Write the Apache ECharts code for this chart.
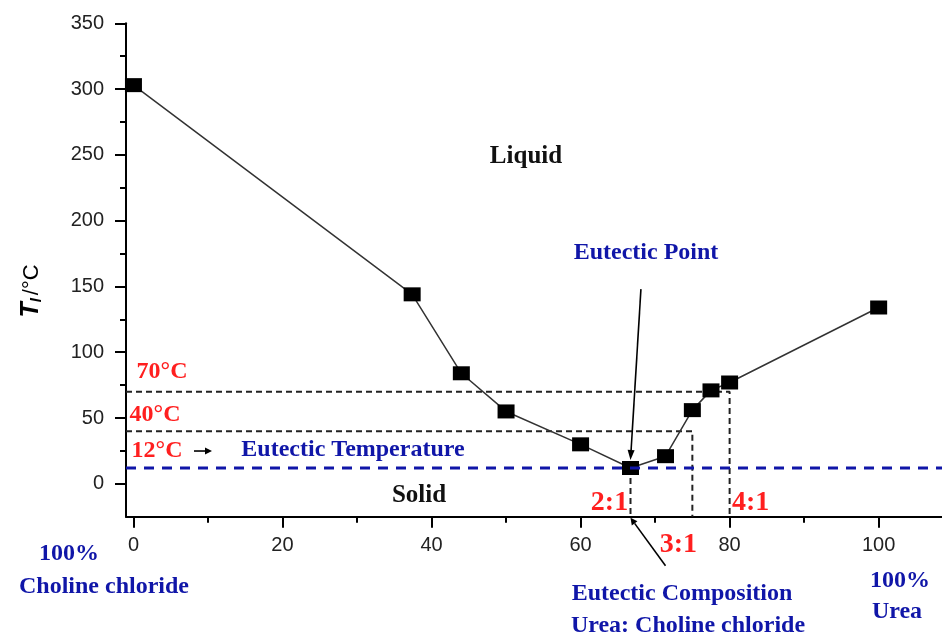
<!DOCTYPE html>
<html>
<head>
<meta charset="utf-8">
<script src="https://cdn.jsdelivr.net/npm/echarts@6/dist/echarts.min.js"></script>
<style>
  html, body { margin: 0; padding: 0; background: #fff; }
  #chart { width: 942px; height: 637px; }
</style>
</head>
<body>
<div id="chart"></div>
<script>
// Urea content (%) of the urea / choline chloride mixture
const ureaPercent = [0, 37.4, 44, 50, 60, 66.7, 71.4, 75, 77.5, 80, 100];
// Freezing temperature T_l (°C) at each composition
const freezingTemp = [303, 144, 84, 55, 30, 12, 21, 56, 71, 77, 134];

// Axis ticks
const xMajorTicks = [0, 20, 40, 60, 80, 100];
const xMinorTicks = [10, 30, 50, 70, 90];
const yMajorTicks = [0, 50, 100, 150, 200, 250, 300, 350];
const yMinorTicks = [25, 75, 125, 175, 225, 275, 325];

// Eutectic point and guide lines
const eutecticUrea = 66.7;
const eutecticTemp = 12;
const isothermTemps = [70, 40];
const isothermUrea = [80, 75];
const isothermLabels = ['70°C', '40°C'];
const ratioUrea = [66.7, 75, 80];
const ratioLabels = ['2:1', '3:1', '4:1'];
// Tail of the "Eutectic Point" arrow (data units)
const eutecticArrowTail = [68.1, 148];

const X_MIN = -1, X_MAX = 108.5, Y_MIN = -25, Y_MAX = 350;

const SERIF = "'Liberation Serif', 'Times New Roman', serif";
const SANS = "'Liberation Sans', Arial, sans-serif";
const RED = '#ff1f1f';
const BLUE = '#1016a8';

const chart = echarts.init(document.getElementById('chart'), null, { renderer: 'canvas' });

function majorAxis(min, max, ticks, pos, margin, extra) {
  return Object.assign({
    type: 'value', min: min, max: max, position: pos,
    axisLine: { show: true, onZero: false, lineStyle: { color: '#000', width: 2 } },
    axisTick: { show: true, customValues: ticks, length: 11, lineStyle: { color: '#000', width: 2 } },
    axisLabel: { show: true, customValues: ticks, margin: margin, fontSize: 20, color: '#222', fontFamily: SANS },
    splitLine: { show: false }
  }, extra || {});
}
function minorAxis(min, max, ticks, pos) {
  return {
    type: 'value', min: min, max: max, position: pos,
    axisLine: { show: false, onZero: false },
    axisTick: { show: true, customValues: ticks, length: 6, lineStyle: { color: '#000', width: 2 } },
    axisLabel: { show: false },
    splitLine: { show: false }
  };
}

const liquidus = ureaPercent.map((x, i) => [x, freezingTemp[i]]);

const dashedBlack = { color: '#222', width: 2, type: [6, 4] };

const series = [
  {
    name: 'eutectic temperature',
    type: 'line',
    data: [[X_MIN, eutecticTemp], [X_MAX, eutecticTemp]],
    symbol: 'none',
    lineStyle: { color: BLUE, width: 3, type: [10, 8] },
    z: 4,
    silent: true
  },
  {
    name: 'eutectic composition',
    type: 'line',
    data: [[eutecticUrea, eutecticTemp], [eutecticUrea, Y_MIN]],
    symbol: 'none',
    lineStyle: dashedBlack,
    z: 2,
    silent: true
  }
].concat(isothermTemps.map((t, i) => ({
  name: isothermLabels[i],
  type: 'line',
  data: [[X_MIN, t], [isothermUrea[i], t], [isothermUrea[i], Y_MIN]],
  symbol: 'none',
  lineStyle: dashedBlack,
  z: 2,
  silent: true
}))).concat([{
  name: 'liquidus',
  type: 'line',
  data: liquidus,
  symbol: 'rect',
  symbolSize: [17, 14],
  itemStyle: { color: '#000' },
  lineStyle: { color: '#333', width: 1.5 },
  z: 3,
  silent: true
}]);

chart.setOption({
  animation: false,
  backgroundColor: '#fff',
  grid: { left: 126, right: 0, top: 23.3, bottom: 120.3, containLabel: false, outerBoundsMode: 'none' },
  xAxis: [
    majorAxis(X_MIN, X_MAX, xMajorTicks, 'bottom', 19, {}),
    minorAxis(X_MIN, X_MAX, xMinorTicks, 'bottom')
  ],
  yAxis: [
    majorAxis(Y_MIN, Y_MAX, yMajorTicks, 'left', 22, {
      name: '{t|T}{s|l}{u|/°C}',
      nameLocation: 'middle',
      nameRotate: 90,
      nameGap: 82,
      nameTextStyle: {
        padding: [0, 42, 0, 0],
        rich: {
          t: { fontFamily: SANS, fontSize: 25, fontWeight: 'bold', fontStyle: 'italic', color: '#000' },
          s: { fontFamily: SANS, fontSize: 15, fontStyle: 'italic', fontWeight: 'bold', color: '#000', verticalAlign: 'bottom', padding: [10, 3, 0, 0] },
          u: { fontFamily: SANS, fontSize: 22, color: '#000' }
        }
      }
    }),
    minorAxis(Y_MIN, Y_MAX, yMinorTicks, 'left')
  ],
  series: series
});

// Annotations placed with the chart's own coordinate conversion
function px(pt) { return chart.convertToPixel({ xAxisIndex: 0, yAxisIndex: 0 }, pt); }

function text(str, x, y, size, color, extra) {
  return Object.assign({
    type: 'text', x: x, y: y, z: 10, silent: true,
    style: {
      text: str, fill: color, fontFamily: SERIF, fontSize: size, fontWeight: 'bold',
      align: 'center', verticalAlign: 'middle'
    }
  }, extra || {});
}

function arrow(tail, tip, head, width) {
  const dx = tip[0] - tail[0], dy = tip[1] - tail[1];
  const len = Math.sqrt(dx * dx + dy * dy);
  const ux = dx / len, uy = dy / len;
  const bx = tip[0] - ux * head, by = tip[1] - uy * head;
  return [
    { type: 'line', z: 9, silent: true,
      shape: { x1: tail[0], y1: tail[1], x2: bx, y2: by },
      style: { stroke: '#000', lineWidth: width } },
    { type: 'polygon', z: 9, silent: true,
      shape: { points: [[tip[0], tip[1]], [bx - uy * 3.5, by + ux * 3.5], [bx + uy * 3.5, by - ux * 3.5]] },
      style: { fill: '#000' } }
  ];
}

const eu = px([eutecticUrea, eutecticTemp]);
const euAxis = px([eutecticUrea, Y_MIN]);
const euTail = px(eutecticArrowTail);
const iso70 = px([X_MIN, isothermTemps[0]]);
const iso40 = px([X_MIN, isothermTemps[1]]);
const isoEu = px([X_MIN, eutecticTemp]);
const r21 = px([ratioUrea[0], Y_MIN]);
const r31 = px([ratioUrea[1], Y_MIN]);
const r41 = px([ratioUrea[2], Y_MIN]);

const graphics = [
  text('Liquid', 526, 157, 25, '#111'),
  text('Solid', 419, 496, 25, '#111'),
  text('Eutectic Point', 646, 253, 24, BLUE),
  text('Eutectic Temperature', 353, 450, 24, BLUE),
  text(isothermLabels[0], iso70[0] + 36, iso70[1] - 20, 24, RED),
  text(isothermLabels[1], iso40[0] + 29, iso40[1] - 16, 24, RED),
  text(eutecticTemp + '°C', isoEu[0] + 31, isoEu[1] - 17, 24, RED),
  text(ratioLabels[0], r21[0] - 21, r21[1] - 14, 28, RED),
  text(ratioLabels[1], r31[0] - 14, r31[1] + 28, 28, RED),
  text(ratioLabels[2], r41[0] + 21, r41[1] - 14, 28, RED),
  text('Eutectic Composition', 682, 594, 24, BLUE),
  text('Urea: Choline chloride', 688, 626, 24, BLUE),
  text('100%', 900, 581, 24, BLUE),
  text('Urea', 897, 612, 24, BLUE),
  text('100%', 69, 554, 24, BLUE),
  text('Choline chloride', 104, 587, 24, BLUE)
]
  .concat(arrow(euTail, [eu[0], eu[1] - 8], 10, 1.6))
  .concat(arrow([euAxis[0] + 35, euAxis[1] + 49], [euAxis[0], euAxis[1] + 1], 7, 1.6))
  .concat(arrow([isoEu[0] + 68, isoEu[1] - 17], [isoEu[0] + 86, isoEu[1] - 17], 7, 1.6));

chart.setOption({ graphic: graphics });
</script>
</body>
</html>
